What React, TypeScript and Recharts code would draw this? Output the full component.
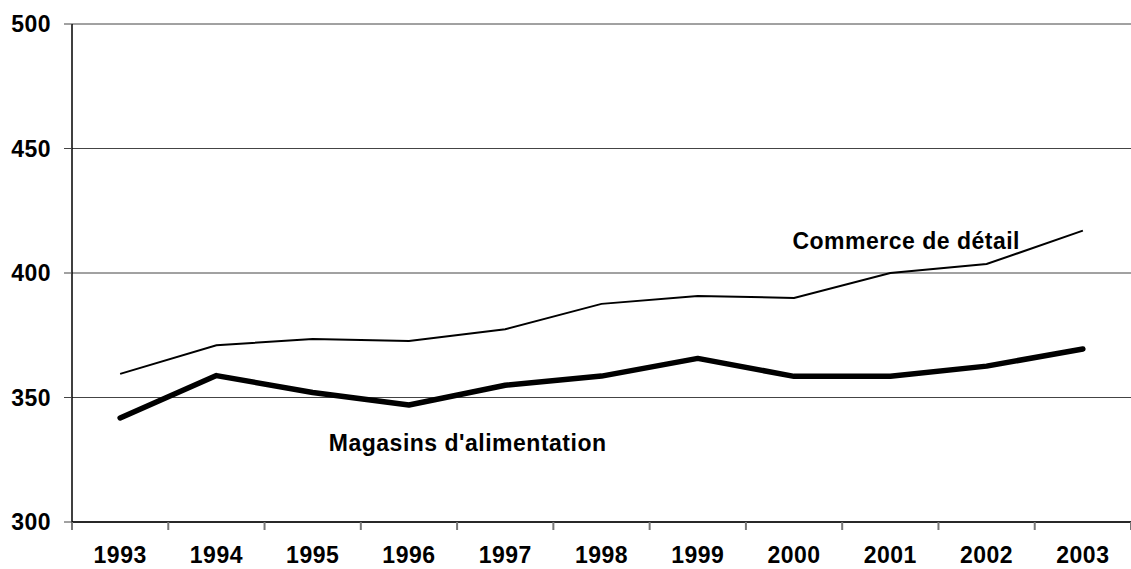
import React from 'react';
import {
  LineChart,
  Line,
  XAxis,
  YAxis,
  CartesianGrid,
  ReferenceDot,
} from 'recharts';

const years = ['1993', '1994', '1995', '1996', '1997', '1998', '1999', '2000', '2001', '2002', '2003'];
const commerce = [359.5, 371, 373.5, 372.7, 377.4, 387.6, 390.8, 390, 400, 403.6, 417];
const magasins = [341.8, 358.8, 352, 347, 354.9, 358.6, 365.7, 358.5, 358.5, 362.6, 369.5];
const yTicks = [300, 350, 400, 450, 500];
const bandTicks = [0, 1, 2, 3, 4, 5, 6, 7, 8, 9, 10, 11];

// each year sits in the middle of its band
const data = years.map((y, i) => ({
  x: i + 0.5,
  year: y,
  commerce: commerce[i],
  magasins: magasins[i],
}));

const font = '"Liberation Sans", Arial, sans-serif';
const tickStyle = {
  fontSize: 23,
  fontWeight: 700,
  fill: '#000',
  fontFamily: font,
  letterSpacing: 0.5,
  style: { letterSpacing: '0.5px' },
};

const App = () => {
  return (
    <div style={{ position: 'absolute', left: 0, top: 0, width: 1131, height: 569, background: '#fff' }}>
      <LineChart
        width={1131}
        height={569}
        data={data}
        margin={{ top: 24, right: 0, bottom: 0, left: 0 }}
      >
        <CartesianGrid horizontal vertical={false} stroke="#444" strokeWidth={1} />
        <XAxis
          dataKey="x"
          type="number"
          domain={[0, 11]}
          ticks={bandTicks}
          interval={0}
          height={1}
          tickSize={8}
          tickFormatter={() => ''}
          tickLine={{ stroke: '#777', strokeWidth: 2 }}
          axisLine={{ stroke: '#000', strokeWidth: 1.5 }}
        />
        <XAxis
          xAxisId="yr"
          dataKey="x"
          type="number"
          domain={[0, 11]}
          ticks={data.map((d) => d.x)}
          interval={0}
          height={46}
          tickSize={0}
          tickMargin={24}
          tickLine={false}
          axisLine={false}
          tickFormatter={(v: number) => years[Math.floor(v)]}
          tick={tickStyle}
        />
        <YAxis
          domain={[300, 500]}
          ticks={yTicks}
          interval={0}
          width={72}
          tickSize={8}
          tickMargin={13}
          tick={tickStyle}
          tickLine={{ stroke: '#444', strokeWidth: 1 }}
          axisLine={{ stroke: '#000', strokeWidth: 1.5 }}
        />
        <Line
          type="linear"
          dataKey="commerce"
          stroke="#000"
          strokeWidth={2}
          dot={false}
          activeDot={false}
          isAnimationActive={false}
        />
        <Line
          type="linear"
          dataKey="magasins"
          stroke="#000"
          strokeWidth={5.5}
          strokeLinecap="round"
          strokeLinejoin="round"
          dot={false}
          activeDot={false}
          isAnimationActive={false}
        />
        <ReferenceDot
          x={8.665}
          y={413}
          r={0}
          label={{ value: 'Commerce de détail', position: 'center', ...tickStyle }}
        />
        <ReferenceDot
          x={4.11}
          y={331.7}
          r={0}
          label={{ value: "Magasins d'alimentation", position: 'center', ...tickStyle }}
        />
      </LineChart>
    </div>
  );
};

export default App;
